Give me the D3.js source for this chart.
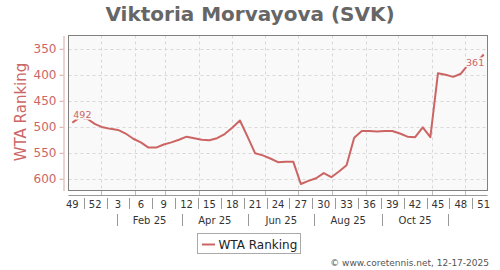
<!DOCTYPE html>
<html>
<head>
<meta charset="utf-8">
<script src="https://cdn.jsdelivr.net/npm/d3@7"></script>
<style>
  body { margin: 0; background: #fff; }
  svg { font-family: "DejaVu Sans", sans-serif; }
</style>
</head>
<body>
<svg id="chart" width="500" height="270"></svg>
<script>
// ── Data ──
const title = 'Viktoria Morvayova (SVK)';
const seriesName = 'WTA Ranking';
const firstWeek = '2024-12-02'; // Monday of ISO week 49, 2024
const ranking = [
  492, 482, 485, 495, 501, 504, 506, 513, 523, 530,
  540, 540, 534, 530, 525, 519, 522, 525, 526, 522,
  514, 502, 488, 519, 551, 555, 561, 568, 567, 567,
  610, 604, 599, 589, 597, 586, 574, 521, 508, 508,
  509, 508, 508, 513, 519, 520, 501, 520, 397, 400,
  404, 398, 380, 378, 361
];
const rankTicks = [350, 400, 450, 500, 550, 600];
const weekLabels = ['49', '52', '3', '6', '9', '12', '15', '18', '21', '24',
  '27', '30', '33', '36', '39', '42', '45', '48', '51'];
const monthLabels = ['Feb 25', 'Apr 25', 'Jun 25', 'Aug 25', 'Oct 25'];
const credit = '\u00a9 www.coretennis.net, 12-17-2025';

// ── Layout ──
const plot = { left: 68.5, right: 487.5, top: 35.5, bottom: 190.5 };
const LINE_COLOR = '#cd6464';
const PLOT_BG = '#f9f9f9';

const svg = d3.select('#chart');
const start = d3.utcParse('%Y-%m-%d')(firstWeek);
const weekDate = i => d3.utcHour.offset(start, (7 * i + 3.5) * 24);
const weekStart = i => d3.utcDay.offset(start, 7 * i);

const x = d3.scaleUtc()
  .domain([start, weekStart(ranking.length)])
  .range([plot.left, plot.right]);

const y = d3.scaleLinear()
  .domain([324.5, 622.5])
  .range([plot.top, plot.bottom]);

// Title
svg.append('text')
  .attr('x', 250).attr('y', 21)
  .attr('text-anchor', 'middle')
  .attr('font-size', '20px').attr('font-weight', 'bold')
  .attr('fill', '#666')
  .text(title);

// Plot background
svg.append('rect')
  .attr('x', plot.left).attr('y', plot.top)
  .attr('width', plot.right - plot.left).attr('height', plot.bottom - plot.top)
  .attr('fill', PLOT_BG);

// Grid
const months = d3.utcMonths(x.domain()[0], x.domain()[1]);
svg.append('g')
  .selectAll('line')
  .data(months)
  .join('line')
  .attr('x1', d => Math.round(x(d)) + 0.5).attr('x2', d => Math.round(x(d)) + 0.5)
  .attr('y1', plot.top).attr('y2', plot.bottom)
  .attr('stroke', '#d8d8d8').attr('stroke-dasharray', '3,3');

svg.append('g')
  .selectAll('line')
  .data(rankTicks)
  .join('line')
  .attr('x1', plot.left).attr('x2', plot.right)
  .attr('y1', d => Math.round(y(d)) + 0.5).attr('y2', d => Math.round(y(d)) + 0.5)
  .attr('stroke', '#d8d8d8').attr('stroke-dasharray', '3,3');

// Plot border
svg.append('rect')
  .attr('x', plot.left).attr('y', plot.top)
  .attr('width', plot.right - plot.left).attr('height', plot.bottom - plot.top)
  .attr('fill', 'none').attr('stroke', '#808080');

// Y axis
const yAxis = svg.append('g')
  .attr('transform', 'translate(63.5,0)')
  .call(d3.axisLeft(y).tickValues(rankTicks).tickSize(4).tickSizeOuter(0));
yAxis.select('.domain').attr('stroke', '#dba5a5');
yAxis.selectAll('.tick line').attr('stroke', '#dba5a5');
yAxis.selectAll('.tick text')
  .attr('font-family', '"DejaVu Sans", sans-serif')
  .attr('font-size', '12px').attr('fill', '#cc6666');

svg.append('text')
  .attr('transform', 'translate(26,112) rotate(-90)')
  .attr('text-anchor', 'middle')
  .attr('font-size', '15px').attr('fill', '#cc6666')
  .text(seriesName);

// X axis: base line + month ticks
svg.append('line')
  .attr('x1', plot.left).attr('x2', plot.right)
  .attr('y1', 195.5).attr('y2', 195.5)
  .attr('stroke', '#999');

svg.append('g')
  .selectAll('line')
  .data(months)
  .join('line')
  .attr('x1', d => Math.round(x(d)) + 0.5).attr('x2', d => Math.round(x(d)) + 0.5)
  .attr('y1', 191).attr('y2', 195)
  .attr('stroke', '#bbb');

// Week number row
const weekIdx = weekLabels.map((_, k) => k * 3);
svg.append('g')
  .selectAll('text')
  .data(weekIdx)
  .join('text')
  .attr('x', i => x(weekDate(i)))
  .attr('y', 207.5)
  .attr('text-anchor', 'middle')
  .attr('font-size', '10px').attr('fill', '#333')
  .text((i, k) => weekLabels[k]);

svg.append('g')
  .selectAll('line')
  .data(weekIdx.slice(1))
  .join('line')
  .attr('x1', i => Math.round(x(weekStart(i - 1))) + 0.5)
  .attr('x2', i => Math.round(x(weekStart(i - 1))) + 0.5)
  .attr('y1', 198).attr('y2', 209)
  .attr('stroke', '#999');

// Month row: separators on the 16th of odd months, labels centred between
const monthSeps = d3.utcMonths(d3.utcDay.offset(start, 30), x.domain()[1], 2)
  .map(d => d3.utcDay.offset(d, 15));
svg.append('g')
  .selectAll('line')
  .data(monthSeps)
  .join('line')
  .attr('x1', d => Math.round(x(d)) + 0.5).attr('x2', d => Math.round(x(d)) + 0.5)
  .attr('y1', 214).attr('y2', 226)
  .attr('stroke', '#999');

svg.append('g')
  .selectAll('text')
  .data(monthLabels)
  .join('text')
  .attr('x', (d, k) => (x(monthSeps[k]) + x(monthSeps[k + 1])) / 2)
  .attr('y', 223.5)
  .attr('text-anchor', 'middle')
  .attr('font-size', '10px').attr('fill', '#333')
  .text(d => d);

// Series line
const line = d3.line()
  .x((d, i) => x(weekDate(i)))
  .y(d => y(d));

svg.append('path')
  .datum(ranking)
  .attr('d', line)
  .attr('fill', 'none')
  .attr('stroke', LINE_COLOR)
  .attr('stroke-width', 2)
  .attr('stroke-linejoin', 'round');

// First / last value labels with a halo that cuts the line
const last = ranking.length - 1;
const ends = [
  { i: 0, anchor: 'start', dx: 1, dy: -4.5 },
  { i: last, anchor: 'end', dx: 0.5, dy: 12 }
];
svg.append('g')
  .selectAll('text')
  .data(ends)
  .join('text')
  .attr('x', d => x(weekDate(d.i)) + d.dx)
  .attr('y', d => y(ranking[d.i]) + d.dy)
  .attr('text-anchor', d => d.anchor)
  .attr('font-size', '9.5px')
  .attr('fill', LINE_COLOR)
  .attr('stroke', PLOT_BG).attr('stroke-width', 3)
  .attr('paint-order', 'stroke')
  .text(d => ranking[d.i]);

// Legend
const legend = svg.append('g').attr('transform', 'translate(197.5,233.5)');
legend.append('rect')
  .attr('width', 103).attr('height', 20)
  .attr('fill', '#fff').attr('stroke', '#aaa');
legend.append('line')
  .attr('x1', 4.5).attr('x2', 17.5).attr('y1', 11).attr('y2', 11)
  .attr('stroke', LINE_COLOR).attr('stroke-width', 2);
legend.append('text')
  .attr('x', 21).attr('y', 15.2)
  .attr('font-size', '12px').attr('fill', '#222')
  .text(seriesName);

// Credit
svg.append('text')
  .attr('x', 489).attr('y', 266)
  .attr('text-anchor', 'end')
  .attr('font-size', '9px').attr('fill', '#555')
  .text(credit);
</script>
</body>
</html>
